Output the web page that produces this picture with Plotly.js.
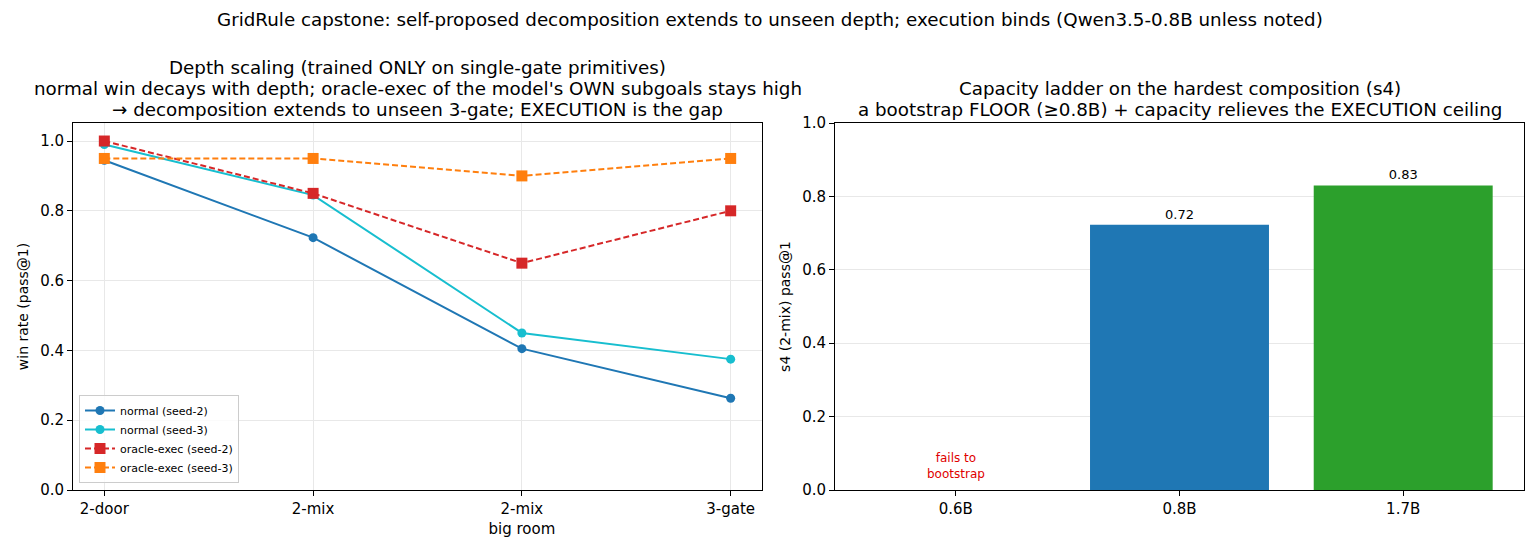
<!DOCTYPE html>
<html>
<head>
<meta charset="utf-8">
<script src="https://cdn.plot.ly/plotly-3.0.1.min.js"></script>
<style>html,body{margin:0;padding:0;background:#fff;}#chart{width:1540px;height:550px;}</style>
</head>
<body>
<div id="chart"></div>
<script>
// ---- data ----
const depthLabels = ["2-door", "2-mix", "2-mix<br>big room", "3-gate"];
const normalSeed2 = [0.945, 0.723, 0.405, 0.263];
const normalSeed3 = [0.99, 0.845, 0.45, 0.375];
const oracleSeed2 = [1.0, 0.85, 0.65, 0.80];
const oracleSeed3 = [0.95, 0.95, 0.90, 0.95];

const modelSizes = ["0.6B", "0.8B", "1.7B"];
const s4Pass = [0, 0.723, 0.83];
const barColors = ["#1f77b4", "#1f77b4", "#2ca02c"];

const supTitle = "GridRule capstone: self-proposed decomposition extends to unseen depth; execution binds (Qwen3.5-0.8B unless noted)";
const leftTitleLines = [
  "Depth scaling (trained ONLY on single-gate primitives)",
  "normal win decays with depth; oracle-exec of the model's OWN subgoals stays high",
  "→ decomposition extends to unseen 3-gate; EXECUTION is the gap"
];
const rightTitleLines = [
  "Capacity ladder on the hardest composition (s4)",
  "a bootstrap FLOOR (≥0.8B) + capacity relieves the EXECUTION ceiling"
];

const FONT = "DejaVu Sans, Liberation Sans, sans-serif";
const W = 1540, H = 550;
const px = v => v / W;
const py = v => 1 - v / H;
const TITLE_SIZE = 18.3;

const xIdx = depthLabels.map((_, i) => i);

const traces = [
  {x: xIdx, y: normalSeed2, name: "normal (seed-2)", mode: "lines+markers", xaxis: "x", yaxis: "y",
   line: {color: "#1f77b4", width: 2}, marker: {symbol: "circle", size: 9, color: "#1f77b4"}},
  {x: xIdx, y: normalSeed3, name: "normal (seed-3)", mode: "lines+markers", xaxis: "x", yaxis: "y",
   line: {color: "#17becf", width: 2}, marker: {symbol: "circle", size: 9, color: "#17becf"}},
  {x: xIdx, y: oracleSeed2, name: "oracle-exec (seed-2)", mode: "lines+markers", xaxis: "x", yaxis: "y",
   line: {color: "#d62728", width: 2, dash: "6px,3px"}, marker: {symbol: "square", size: 11, color: "#d62728"}},
  {x: xIdx, y: oracleSeed3, name: "oracle-exec (seed-3)", mode: "lines+markers", xaxis: "x", yaxis: "y",
   line: {color: "#ff7f0e", width: 2, dash: "6px,3px"}, marker: {symbol: "square", size: 11, color: "#ff7f0e"}},
  {x: modelSizes.map((_, i) => i), y: s4Pass, type: "bar", xaxis: "x2", yaxis: "y2", width: 0.8,
   marker: {color: barColors, line: {width: 0}}, showlegend: false,
   text: s4Pass.map(v => v > 0 ? v.toFixed(2) : ""), textposition: "outside",
   textfont: {family: FONT, size: 13, color: "#000"}, cliponaxis: false}
];

const axisCommon = {
  showline: true, mirror: true, linecolor: "#000", linewidth: 1,
  ticks: "outside", ticklen: 5, tickwidth: 1, tickcolor: "#000",
  showgrid: true, gridcolor: "#e8e8e8", gridwidth: 1, zeroline: false,
  tickfont: {family: FONT, size: 15, color: "#000"}
};

const annotations = [
  {xref: "paper", yref: "paper", x: 0.5, y: py(19), xanchor: "center", yanchor: "middle", showarrow: false,
   text: supTitle, font: {family: FONT, size: TITLE_SIZE, color: "#000"}},
  {xref: "x2", yref: "y2", x: 0, y: 0.02, xanchor: "center", yanchor: "bottom", showarrow: false,
   align: "center", text: "fails to<br>bootstrap", font: {family: FONT, size: 12, color: "#e00000"}}
];
const leftY = [67, 88, 109];
leftTitleLines.forEach((t, i) => annotations.push({xref: "paper", yref: "paper", x: px(417.5), y: py(leftY[i]),
  xanchor: "center", yanchor: "middle", showarrow: false, text: t, font: {family: FONT, size: TITLE_SIZE, color: "#000"}}));
const rightY = [88, 109];
rightTitleLines.forEach((t, i) => annotations.push({xref: "paper", yref: "paper", x: px(1179.5), y: py(rightY[i]),
  xanchor: "center", yanchor: "middle", showarrow: false, text: t, font: {family: FONT, size: TITLE_SIZE, color: "#000"}}));

const layout = {
  width: W, height: H,
  margin: {l: 0, r: 0, t: 0, b: 0, pad: 0},
  paper_bgcolor: "#fff", plot_bgcolor: "#fff",
  font: {family: FONT, color: "#000"},
  showlegend: true,
  legend: {x: px(79), y: py(483), xanchor: "left", yanchor: "bottom",
    bgcolor: "rgba(255,255,255,0.8)", bordercolor: "#cccccc", borderwidth: 1,
    font: {family: FONT, size: 11, color: "#000"}, tracegroupgap: 0},
  xaxis: Object.assign({}, axisCommon, {domain: [px(73), px(762)], range: [-0.15, 3.15],
    tickmode: "array", tickvals: xIdx, ticktext: depthLabels, anchor: "y"}),
  yaxis: Object.assign({}, axisCommon, {domain: [py(490), py(123)], range: [0, 1.0516],
    tickmode: "array", tickvals: [0, 0.2, 0.4, 0.6, 0.8, 1.0], ticktext: ["0.0","0.2","0.4","0.6","0.8","1.0"],
    anchor: "x", title: {text: "win rate (pass@1)", font: {family: FONT, size: 14}, standoff: 8}}),
  xaxis2: Object.assign({}, axisCommon, {domain: [px(835), px(1524)], range: [-0.54, 2.54],
    tickmode: "array", tickvals: modelSizes.map((_, i) => i), ticktext: modelSizes, anchor: "y2", showgrid: false}),
  yaxis2: Object.assign({}, axisCommon, {domain: [py(490), py(123)], range: [0, 1.0],
    tickmode: "array", tickvals: [0, 0.2, 0.4, 0.6, 0.8, 1.0], ticktext: ["0.0","0.2","0.4","0.6","0.8","1.0"],
    anchor: "x2", title: {text: "s4 (2-mix) pass@1", font: {family: FONT, size: 14}, standoff: 8}}),
  annotations: annotations
};

Plotly.newPlot("chart", traces, layout, {displayModeBar: false, staticPlot: true});
</script>
</body>
</html>
